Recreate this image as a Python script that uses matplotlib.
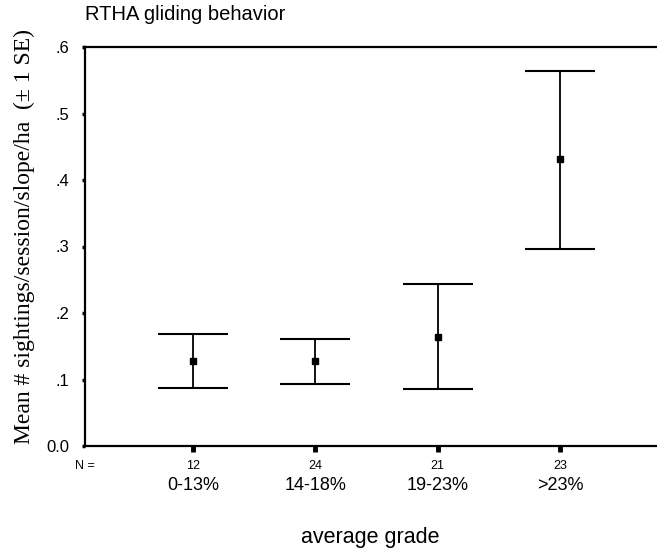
import matplotlib
matplotlib.use("Agg")
import matplotlib.pyplot as plt

categories = ["0-13%", "14-18%", "19-23%", ">23%"]
n_values = [12, 24, 21, 23]
means = [0.128, 0.128, 0.164, 0.432]
upper = [0.168, 0.161, 0.244, 0.564]
lower = [0.087, 0.093, 0.086, 0.296]
yticks = [0.0, 0.1, 0.2, 0.3, 0.4, 0.5, 0.6]
yticklabels = ["0.0", ".1", ".2", ".3", ".4", ".5", ".6"]

fig = plt.figure(figsize=(6.57, 5.54), dpi=100)
ax = fig.add_axes([85/657, 1-446/554, 1-85/657, (446-47)/554])

x = list(range(len(categories)))
yerr = [[m - l for m, l in zip(means, lower)], [u - m for m, u in zip(means, upper)]]
ax.errorbar(x, means, yerr=yerr, fmt="s", color="black", ms=4.5, elinewidth=1.3,
            capsize=25, capthick=1.5, ecolor="black")

ax.set_xlim(-0.88, 3.79)
ax.set_ylim(0, 0.6)
ax.set_yticks(yticks)
ax.set_yticklabels(yticklabels, family="Liberation Sans", fontsize=12)
ax.set_xticks(x)
ax.set_xticklabels([])
ax.tick_params(axis="y", length=2, width=2.5, pad=9)
ax.tick_params(axis="x", length=4, width=3.5, direction="out", pad=2)
for s in ["left", "bottom", "top"]:
    ax.spines[s].set_linewidth(1.6)
ax.spines["right"].set_visible(False)

trans = ax.get_xaxis_transform()
y_n = -(466 - 446) / 399
y_c = -(486 - 446) / 399
ax.text(-0.88, y_n, "N =", transform=trans, ha="center", va="center",
        family="Liberation Sans", fontsize=9)
for xi, n, c in zip(x, n_values, categories):
    ax.text(xi, y_n, str(n), transform=trans, ha="center", va="center",
            family="Liberation Sans", fontsize=9)
    ax.text(xi, y_c, c, transform=trans, ha="center", va="center",
            family="Liberation Sans", fontsize=13)

fig.text(370/657, 1-538/554, "average grade", ha="center", va="center",
         family="Liberation Sans", fontsize=15.5)
fig.text(85/657, 1-15/554, "RTHA gliding behavior", ha="left", va="center",
         family="Liberation Sans", fontsize=14.5)
fig.text(24/657, 1-237/554, "Mean # sightings/session/slope/ha  (\u00b1 1 SE)",
         rotation=90, ha="center", va="center", family="Liberation Serif", fontsize=17)

fig.savefig("out.png", dpi=100)
